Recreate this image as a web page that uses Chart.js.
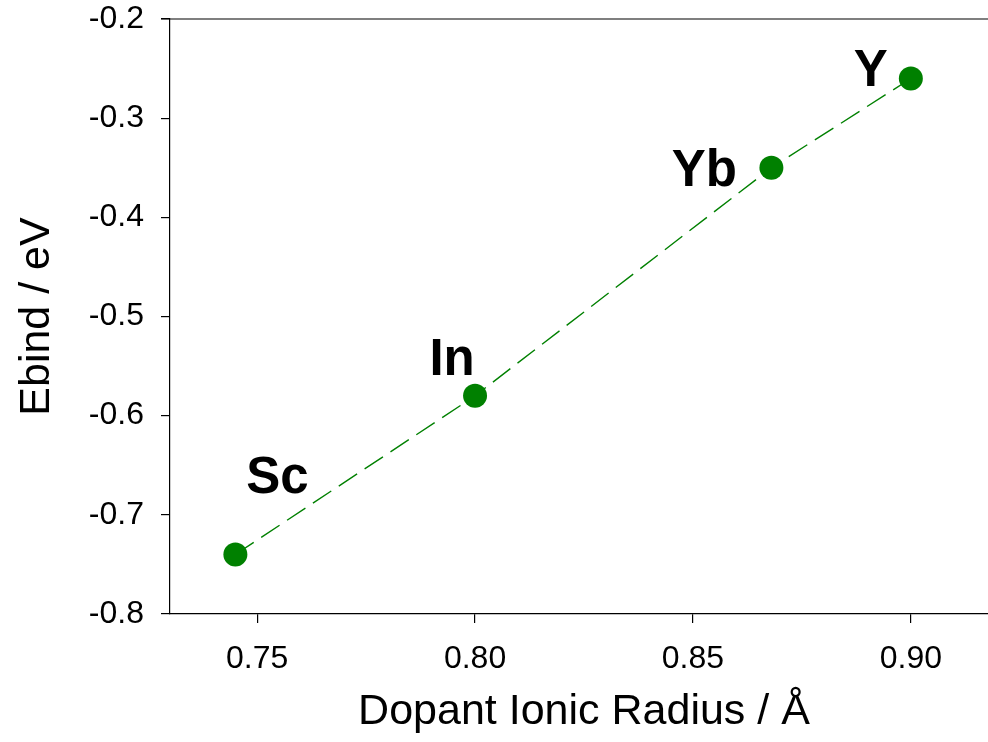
<!DOCTYPE html>
<html>
<head>
<meta charset="utf-8">
<script src="https://cdn.jsdelivr.net/npm/chart.js@4.4.1/dist/chart.umd.min.js"></script>
<style>
  html, body { margin: 0; padding: 0; background: #fff; overflow: hidden; }
  #wrap { width: 1010px; height: 742px; }
</style>
</head>
<body>
<div id="wrap"><canvas id="graph1" width="1010" height="742"></canvas></div>
<script>
// data
const dopants = ['Sc', 'In', 'Yb', 'Y'];
const ionicRadius = [0.745, 0.80, 0.868, 0.90];
const bindEnergy = [-0.74, -0.58, -0.35, -0.26];
const xTicks = [0.75, 0.80, 0.85, 0.90];
const yTicks = [-0.8, -0.7, -0.6, -0.5, -0.4, -0.3, -0.2];

const green = '#008000';
const fontFamily = '"Liberation Sans", Arial, sans-serif';

// label placement relative to each point (px)
const labelShift = {
  Sc: [42, -62],
  In: [-23, -21],
  Yb: [-67, 18],
  Y: [-40, 7]
};

const dopantLabels = {
  id: 'dopantLabels',
  afterDatasetsDraw(chart) {
    const ctx = chart.ctx;
    const meta = chart.getDatasetMeta(0);
    ctx.save();
    ctx.fillStyle = '#000';
    ctx.font = 'bold 51px ' + fontFamily;
    ctx.textAlign = 'center';
    ctx.textBaseline = 'alphabetic';
    meta.data.forEach((pt, i) => {
      const s = labelShift[dopants[i]];
      ctx.fillText(dopants[i], pt.x + s[0], pt.y + s[1]);
    });
    ctx.restore();
  }
};

// top frame line
const topLine = {
  id: 'topLine',
  afterDraw(chart) {
    const { ctx, chartArea } = chart;
    ctx.save();
    ctx.strokeStyle = '#000';
    ctx.lineWidth = 1.2;
    ctx.beginPath();
    ctx.moveTo(chartArea.left - 9, chartArea.top);
    ctx.lineTo(chartArea.right, chartArea.top);
    ctx.stroke();
    ctx.restore();
  }
};

function noPad(scale) {
  scale.paddingTop = 0;
  scale.paddingBottom = 0;
  scale.paddingLeft = 0;
  scale.paddingRight = 0;
}

const ctx = document.getElementById('graph1').getContext('2d');
const chart = new Chart(ctx, {
  type: 'scatter',
  data: {
    datasets: [{
      data: ionicRadius.map((x, i) => ({ x: x, y: bindEnergy[i] })),
      showLine: true,
      borderColor: green,
      borderWidth: 1.4,
      borderDash: [22, 9],
      backgroundColor: green,
      pointBackgroundColor: green,
      pointBorderWidth: 0,
      pointRadius: 12
    }]
  },
  options: {
    responsive: false,
    animation: false,
    layout: { padding: { top: 19, right: 0, left: 0, bottom: 0 } },
    plugins: { legend: { display: false }, tooltip: { enabled: false } },
    scales: {
      x: {
        type: 'linear',
        min: 0.73,
        max: 0.92,
        afterBuildTicks: axis => { axis.ticks = xTicks.map(v => ({ value: v })); },
        afterFit: scale => { scale.height = 128; noPad(scale); },
        grid: { display: true, drawOnChartArea: false, drawTicks: true, tickLength: 9, color: '#000', lineWidth: 1.2 },
        border: { display: true, color: '#000', width: 1.2 },
        ticks: {
          color: '#000',
          padding: 17,
          font: { family: fontFamily, size: 32 },
          maxRotation: 0,
          callback: v => v.toFixed(2)
        },
        title: {
          display: true,
          text: 'Dopant Ionic Radius / Å',
          color: '#000',
          font: { family: fontFamily, size: 43 },
          padding: { top: 0, bottom: 4 }
        }
      },
      y: {
        type: 'linear',
        min: -0.8,
        max: -0.2,
        afterBuildTicks: axis => { axis.ticks = yTicks.map(v => ({ value: v })); },
        afterFit: scale => { scale.width = 170; noPad(scale); },
        grid: { display: true, drawOnChartArea: false, drawTicks: true, tickLength: 9, color: '#000', lineWidth: 1.2 },
        border: { display: true, color: '#000', width: 1.2 },
        ticks: {
          color: '#000',
          padding: 17,
          font: { family: fontFamily, size: 32 },
          callback: v => v.toFixed(1)
        },
        title: {
          display: true,
          text: 'Ebind / eV',
          color: '#000',
          font: { family: fontFamily, size: 43 },
          padding: { top: 11, bottom: 0 }
        }
      }
    }
  },
  plugins: [dopantLabels, topLine]
});
</script>
</body>
</html>
